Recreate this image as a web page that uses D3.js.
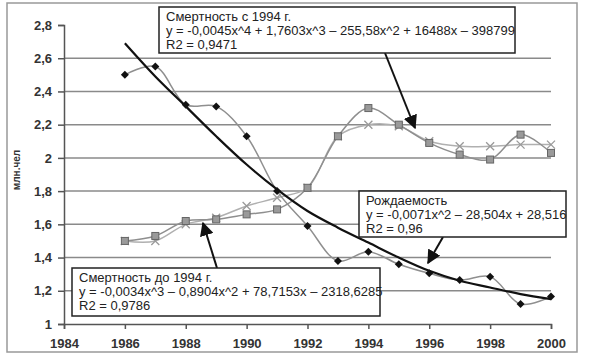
<!DOCTYPE html>
<html>
<head>
<meta charset="utf-8">
<script src="https://cdn.jsdelivr.net/npm/d3@7"></script>
<style>
  body { margin: 0; background: #fff; }
  svg { font-family: "Liberation Sans", Arial, sans-serif; }
</style>
</head>
<body>
<svg id="chart"></svg>
<script>
const years = [1986, 1987, 1988, 1989, 1990, 1991, 1992, 1993, 1994, 1995, 1996, 1997, 1998, 1999, 2000];
const births = [2.50, 2.55, 2.32, 2.31, 2.13, 1.80, 1.59, 1.38, 1.435, 1.36, 1.305, 1.265, 1.285, 1.12, 1.165];
const birthsTrend = [2.69, 2.49, 2.31, 2.13, 1.96, 1.81, 1.68, 1.58, 1.49, 1.40, 1.32, 1.26, 1.22, 1.18, 1.15];
const deaths = [1.50, 1.53, 1.62, 1.63, 1.66, 1.69, 1.82, 2.13, 2.30, 2.20, 2.09, 2.02, 1.99, 2.14, 2.03];
const deathsFit = [1.50, 1.50, 1.60, 1.64, 1.71, 1.76, 1.82, 2.13, 2.20, 2.19, 2.10, 2.07, 2.07, 2.08, 2.08];
const xTicks = [1984, 1986, 1988, 1990, 1992, 1994, 1996, 1998, 2000];
const yTicks = [1, 1.2, 1.4, 1.6, 1.8, 2, 2.2, 2.4, 2.6, 2.8];
const yTitle = "млн.чел";
const notes = [
  {lines: ["Смертность с 1994 г.", "y = -0,0045x^4 + 1,7603x^3 – 255,58x^2 + 16488x – 398799", "R2 = 0,9471"],
   box: [159, 7, 515, 53], arrow: [385, 53, 415, 128]},
  {lines: ["Рождаемость", "y = -0,0071x^2 – 28,504x + 28,516", "R2 = 0,96"],
   box: [359, 191, 566, 237], arrow: [443, 237, 428, 263]},
  {lines: ["Смертность до 1994 г.", "y = -0,0034x^3 – 0,8904x^2 + 78,7153x – 2318,6285", "R2 = 0,9786"],
   box: [72, 268, 380, 316], arrow: [217, 268, 203, 223]}
];

const W = 591, H = 359;
const margin = {top: 25, right: 40, bottom: 35, left: 64};
const svg = d3.select("#chart").attr("width", W).attr("height", H);

svg.append("rect").attr("x", 7).attr("y", 3).attr("width", 570).attr("height", 349)
  .attr("fill", "#fff").attr("stroke", "#999").attr("stroke-width", 1.5);

const x = d3.scaleLinear().domain([1984, 2000]).range([64, 551]);
const y = d3.scaleLinear().domain([1, 2.8]).range([324, 25]);
const fmt = d => String(+d.toFixed(1)).replace(".", ",");

// gridlines
svg.append("g").selectAll("line")
  .data(yTicks.filter(d => d > 1 && d < 2.8))
  .join("line")
  .attr("x1", x(1984)).attr("x2", x(2000))
  .attr("y1", d => y(d)).attr("y2", d => y(d))
  .attr("stroke", "#8a8a8a").attr("stroke-width", 1.5);

const xAxis = svg.append("g").attr("transform", `translate(0,${y(1)})`)
  .call(d3.axisBottom(x).tickValues(xTicks).tickFormat(d3.format("d")).tickSizeOuter(0).tickSize(5));
const yAxis = svg.append("g").attr("transform", `translate(${x(1984)},0)`)
  .call(d3.axisLeft(y).tickValues(yTicks).tickFormat(fmt).tickSizeOuter(0).tickSize(6));
[xAxis, yAxis].forEach(a => {
  a.select(".domain").attr("stroke", "#555").attr("stroke-width", 1.5);
  a.selectAll(".tick line").attr("stroke", "#555").attr("stroke-width", 1.5);
  a.selectAll("text").attr("font-size", 13).attr("font-weight", "bold")
    .attr("fill", "#333").attr("font-family", "Liberation Sans, Arial, sans-serif");
});
xAxis.selectAll("text").attr("dy", "1.2em");
yAxis.selectAll("text").attr("x", -12);

svg.append("text").attr("transform", "translate(20,170) rotate(-90)")
  .attr("text-anchor", "middle").attr("font-size", 10).attr("font-weight", "bold")
  .attr("fill", "#333").text(yTitle);

const curve = d3.curveCatmullRom.alpha(0.5);
const line = vals => d3.line().x((d, i) => x(years[i])).y(d => y(d)).curve(curve)(vals);

// series lines
svg.append("path").attr("d", line(deathsFit)).attr("fill", "none").attr("stroke", "#b0b0b0").attr("stroke-width", 1.5);
svg.append("path").attr("d", line(deaths)).attr("fill", "none").attr("stroke", "#8f8f8f").attr("stroke-width", 1.5);
svg.append("path").attr("d", line(births)).attr("fill", "none").attr("stroke", "#8f8f8f").attr("stroke-width", 1.5);
svg.append("path").attr("d", line(birthsTrend)).attr("fill", "none").attr("stroke", "#111").attr("stroke-width", 2.2);

// markers
svg.append("g").selectAll("path").data(deathsFit).join("path")
  .attr("transform", (d, i) => `translate(${x(years[i])},${y(d)})`)
  .attr("d", "M-4,-4L4,4M-4,4L4,-4").attr("stroke", "#999").attr("stroke-width", 1.3);
svg.append("g").selectAll("rect").data(deaths).join("rect")
  .attr("x", (d, i) => x(years[i]) - 3.5).attr("y", d => y(d) - 3.5)
  .attr("width", 7).attr("height", 7)
  .attr("fill", "#9a9a9a").attr("stroke", "#666").attr("stroke-width", 1);
svg.append("g").selectAll("path").data(births).join("path")
  .attr("transform", (d, i) => `translate(${x(years[i])},${y(d)})`)
  .attr("d", "M0,-4L4,0L0,4L-4,0Z").attr("fill", "#111");

// annotation boxes and arrows
svg.append("defs").append("marker").attr("id", "ah")
  .attr("viewBox", "0 0 10 10").attr("refX", 9).attr("refY", 5)
  .attr("markerWidth", 7).attr("markerHeight", 7).attr("orient", "auto")
  .append("path").attr("d", "M0,0L10,5L0,10Z").attr("fill", "#111");

notes.forEach(n => {
  const [x0, y0, x1, y1] = n.box;
  svg.append("line").attr("x1", n.arrow[0]).attr("y1", n.arrow[1])
    .attr("x2", n.arrow[2]).attr("y2", n.arrow[3])
    .attr("stroke", "#111").attr("stroke-width", 2).attr("marker-end", "url(#ah)");
  svg.append("rect").attr("x", x0).attr("y", y0).attr("width", x1 - x0).attr("height", y1 - y0)
    .attr("fill", "#fff").attr("stroke", "#222").attr("stroke-width", 1.5);
  svg.append("g").selectAll("text").data(n.lines).join("text")
    .attr("x", x0 + 7).attr("y", (d, i) => y0 + 14 + i * 14)
    .attr("font-size", 13).attr("fill", "#222").text(d => d);
});
</script>
</body>
</html>
